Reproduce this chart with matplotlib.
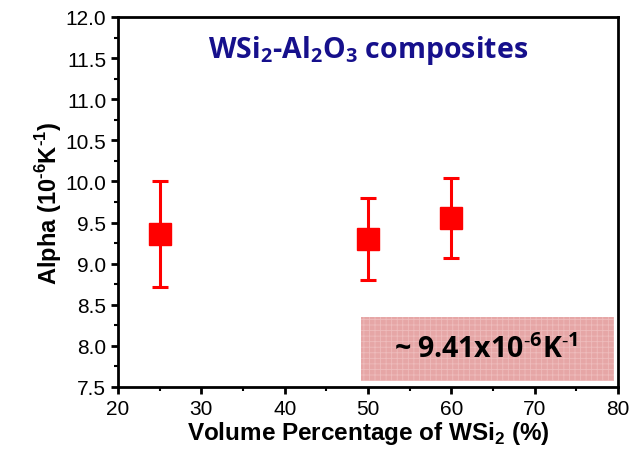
import numpy as np
import matplotlib
matplotlib.use("Agg")
import matplotlib.pyplot as plt
from matplotlib.ticker import MultipleLocator
from matplotlib.patches import Rectangle

vol_pct = [25, 50, 60]
alpha = [9.36, 9.30, 9.55]
err_hi = [10.01, 9.80, 10.04]
err_lo = [8.72, 8.80, 9.07]
title_txt = "WSi$_\\mathregular{2}$-Al$_\\mathregular{2}$O$_\\mathregular{3}$ composites"
avg_txt = "~ 9.41x10$^\\mathregular{\u20106}$K$^\\mathregular{\u20101}$"

alpha = np.array(alpha)
yerr = [alpha - np.array(err_lo), np.array(err_hi) - alpha]

plt.rcParams['font.family'] = 'Liberation Sans'

fig = plt.figure(figsize=(6.39, 4.52), dpi=100)
ax = fig.add_axes([0.1847, 0.1416, 0.7825, 0.8186])

ax.errorbar(vol_pct, alpha, yerr=yerr, fmt='s', color='#ff0000', ms=16,
            elinewidth=2.2, capsize=5.5, capthick=2.2, zorder=3)

plt.rcParams['hatch.linewidth'] = 0.6
box = Rectangle((49.1, 7.57), 30.4, 0.78, facecolor='#e6a6a6',
                edgecolor='#eebcbc', hatch='+++', linewidth=0, zorder=1)
ax.add_patch(box)
ax.text(64.2, 7.96, avg_txt, ha='center', va='center', fontsize=20.5,
        fontweight='bold', family='Open Sans', zorder=2)
ax.text(50, 11.61, title_txt, ha='center', va='center', fontsize=20.5,
        fontweight='bold', family='Open Sans', color='#16108c')

ax.set_xlim(20, 80)
ax.set_ylim(7.5, 12.0)
ax.xaxis.set_major_locator(MultipleLocator(10))
ax.xaxis.set_minor_locator(MultipleLocator(5))
ax.yaxis.set_major_locator(MultipleLocator(0.5))
ax.yaxis.set_minor_locator(MultipleLocator(0.25))
ax.yaxis.set_major_formatter(plt.FormatStrFormatter('%.1f'))
ax.tick_params(which='major', direction='out', length=5, width=2, labelsize=15)
ax.tick_params(which='minor', direction='out', length=3, width=1.5)
for s in ax.spines.values():
    s.set_linewidth(2)

ax.set_xlabel("Volume Percentage of WSi$_\\mathregular{2}$ (%)", fontsize=17.5,
              fontweight='bold', labelpad=1)
ax.set_ylabel("Alpha (10$^\\mathregular{\u20106}$K$^\\mathregular{\u20101}$)", fontsize=17,
              fontweight='bold', labelpad=1)

fig.savefig("out.png", dpi=100)
